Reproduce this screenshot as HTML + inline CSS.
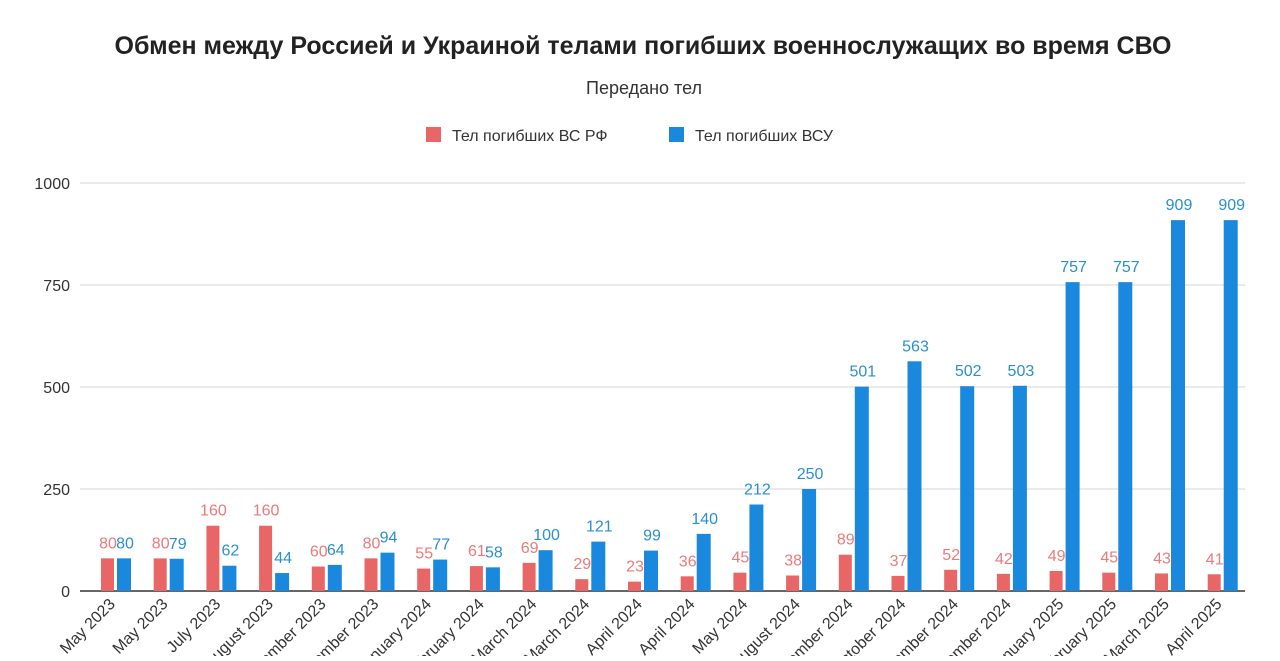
<!DOCTYPE html>
<html><head><meta charset="utf-8"><style>
body{margin:0;background:#fff;width:1280px;height:656px;overflow:hidden;font-family:"Liberation Sans",sans-serif}
</style></head><body>
<svg id="chart" width="1280" height="656" xmlns="http://www.w3.org/2000/svg" font-family="Liberation Sans, sans-serif">
<text x="643" y="54" text-anchor="middle" font-size="25" font-weight="bold" fill="#222">Обмен между Россией и Украиной телами погибших военнослужащих во время СВО</text>
<text x="644" y="94" text-anchor="middle" font-size="18" fill="#333">Передано тел</text>
<g>
<rect x="426" y="127" width="15" height="15" fill="#e86666"/>
<text x="452" y="141" font-size="16" fill="#333">Тел погибших ВС  РФ</text>
<rect x="669" y="127" width="15" height="15" fill="#1a88dd"/>
<text x="695" y="141" font-size="16" fill="#333">Тел погибших ВСУ</text>
</g>
<g id="grid"></g><g id="bars"></g><g id="labels"></g>
</svg>
<script>
const categories=["May 2023","May 2023","July 2023","August 2023","September 2023","November 2023","January 2024","February 2024","March 2024","March 2024","April 2024","April 2024","May 2024","August 2024","September 2024","October 2024","November 2024","December 2024","January 2025","February 2025","March 2025","April 2025"];
const rfValues=[80,80,160,160,60,80,55,61,69,29,23,36,45,38,89,37,52,42,49,45,43,41];
const vsuValues=[80,79,62,44,64,94,77,58,100,121,99,140,212,250,501,563,502,503,757,757,909,909];
const yTicks=[0,250,500,750,1000];
const NS="http://www.w3.org/2000/svg";
const y0=591,y1=183,yMax=1000;
const y=v=>y0-(v/yMax)*(y0-y1);
const x=i=>116+i*52.7;
function mk(tag,attrs,parent,text){const e=document.createElementNS(NS,tag);for(const k in attrs)e.setAttribute(k,attrs[k]);if(text!==undefined)e.textContent=text;parent.appendChild(e);return e;}
const grid=document.getElementById('grid'),bars=document.getElementById('bars'),labels=document.getElementById('labels');
yTicks.forEach(t=>{
  const l=mk('line',{x1:80,x2:1245,y1:y(t),y2:y(t),stroke:t===0?'#333':'#d6d6d6','stroke-width':t===0?1.5:1},grid);
  
  
  const tx=mk('text',{x:70,y:y(t)+6,'text-anchor':'end','font-size':16,fill:'#333'},grid,String(t));
  
  
});
categories.forEach((c,i)=>{
  const cx=x(i);
  const r=mk('rect',{x:cx-15,y:y(rfValues[i]),width:13,height:y0-y(rfValues[i]),fill:'#e86666'},bars);
  
  
  const b=mk('rect',{x:cx+1,y:y(vsuValues[i]),width:14,height:y0-y(vsuValues[i]),fill:'#1a88dd'},bars);
  
  
  const rl=mk('text',{x:cx-8,y:y(rfValues[i])-10,'text-anchor':'middle','font-size':16,fill:'#ec7a7a'},labels,String(rfValues[i]));
  
  
  const bl=mk('text',{x:cx+9,y:y(vsuValues[i])-10,'text-anchor':'middle','font-size':16,fill:'#2a8fcf'},labels,String(vsuValues[i]));
  
  
  const xl=mk('text',{x:cx,y:605,'text-anchor':'end','font-size':16,fill:'#333',transform:`rotate(-45 ${cx} 605)`},labels,c);
  
  
});
</script>
</body></html>
